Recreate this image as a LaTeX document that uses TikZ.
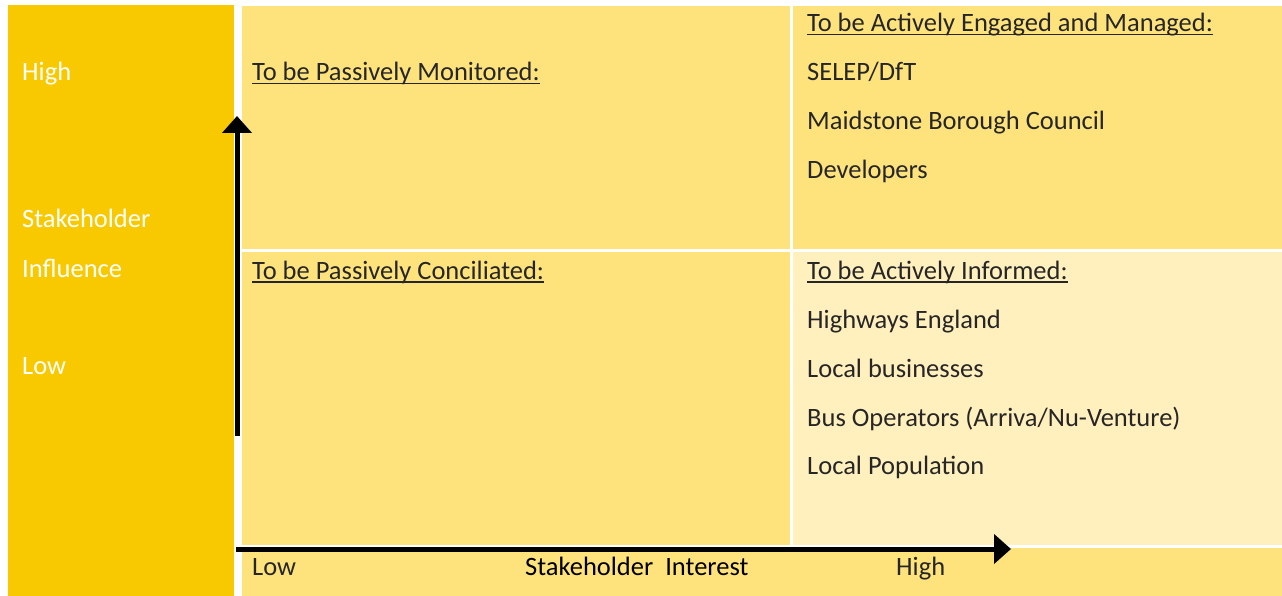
\documentclass[tikz,border=0pt]{standalone}
\usepackage{fontspec}
\setmainfont{Carlito}
\usetikzlibrary{arrows.meta}
\definecolor{axisgold}{HTML}{F9C900}
\definecolor{cellyellow}{HTML}{FEE37D}
\definecolor{cellpale}{HTML}{FFF0BE}
\definecolor{inktext}{HTML}{262626}
% underline drawn close under the baseline
\newsavebox\ulbox
\newcommand\ultext[1]{\sbox\ulbox{#1}\rlap{\rule[-3.5pt]{\wd\ulbox}{1.7pt}}\usebox\ulbox}
\begin{document}
\begin{tikzpicture}[x=1pt,y=-1pt,
  lbl/.style={anchor=base west,inner sep=0pt,font=\fontsize{26.5}{30}\selectfont,text=inktext},
  wlbl/.style={lbl,text=white},
  axisarrow/.style={line width=5pt,-{Triangle[width=29pt,length=17pt]}}]
  % canvas
  \fill[white] (0,0) rectangle (1282,596);
  \useasboundingbox (0,0) rectangle (1282,596);
  % panels
  \fill[axisgold] (8,5) rectangle (234,596);
  \fill[cellyellow] (242,6) rectangle (790,249);
  \fill[cellyellow] (793,6) rectangle (1282,249);
  \fill[cellyellow] (242,252) rectangle (790,545);
  \fill[cellpale] (793,252) rectangle (1282,545);
  \fill[cellyellow] (242,548) rectangle (1282,596);
  % vertical axis labels
  \node[wlbl] (hi) at (22,81) {High};
  \node[wlbl] (sh) at (22,227) {Stakeholder};
  \node[wlbl] (inf) at (22,277) {Influence};
  \node[wlbl] (lo) at (22,374) {Low};
  % quadrant texts
  \node[lbl] (pm) at (252,81) {\ultext{To be Passively Monitored:}};
  \node[lbl] (ae) at (807,32) {\ultext{To be Actively Engaged and Managed:}};
  \node[lbl] (a1) at (807,81) {SELEP/DfT};
  \node[lbl] (a2) at (807,130) {Maidstone Borough Council};
  \node[lbl] (a3) at (807,179) {Developers};
  \node[lbl] (pc) at (252,279) {\ultext{To be Passively Conciliated:}};
  \node[lbl] (ai) at (807,279) {\ultext{To be Actively Informed:}};
  \node[lbl] (b1) at (807,328) {Highways England};
  \node[lbl] (b2) at (807,377) {Local businesses};
  \node[lbl] (b3) at (807,426) {Bus Operators (Arriva/Nu-Venture)};
  \node[lbl] (b4) at (807,474) {Local Population};
  % horizontal axis labels
  \node[lbl] (xlo) at (252,575) {Low};
  \node[lbl,text=black] (xi) at (525,575) {Stakeholder\ \ Interest};
  \node[lbl] (xhi) at (896,575) {High};
  % axes
  \coordinate (vstart) at (237,436);
  \coordinate (vend) at (237,116);
  \coordinate (hstart) at (236,549);
  \coordinate (hend) at (1011,549);
  \draw[axisarrow] (vstart) -- (vend);
  \draw[axisarrow] (hstart) -- (hend);
\end{tikzpicture}
\end{document}
